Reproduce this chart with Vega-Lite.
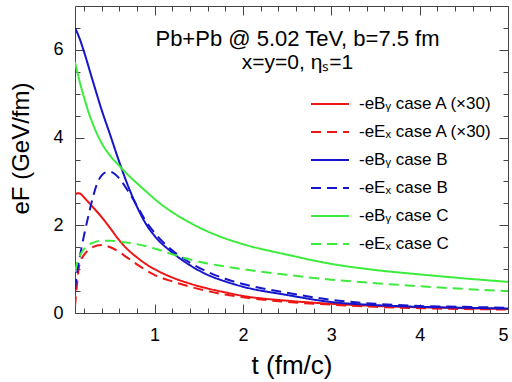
{
  "$schema": "https://vega.github.io/schema/vega-lite/v6.json",
  "width": 433,
  "height": 307,
  "autosize": {"type": "none"},
  "padding": {"left": 75, "top": 6, "right": 4, "bottom": 69},
  "config": {
    "view": {"stroke": "#444444", "strokeWidth": 1},
    "font": "Liberation Sans",
    "axis": {"grid": false}
  },
  "title": {
    "text": "Pb+Pb @ 5.02 TeV, b=7.5 fm",
    "subtitle": "x=y=0, ηₛ=1",
    "anchor": "middle",
    "frame": "group",
    "orient": "top",
    "offset": -68,
    "dx": 6,
    "font": "Liberation Sans",
    "fontSize": 22,
    "fontWeight": "normal",
    "color": "black",
    "subtitleFont": "Liberation Sans",
    "subtitleFontSize": 21,
    "subtitleColor": "black",
    "subtitlePadding": 1
  },
  "datasets": {
    "curves": [
      {"series": "-eBᵧ case A (×30)", "t": 0.1, "eF": 2.7},
      {"series": "-eBᵧ case A (×30)", "t": 0.13, "eF": 2.73},
      {"series": "-eBᵧ case A (×30)", "t": 0.16, "eF": 2.72},
      {"series": "-eBᵧ case A (×30)", "t": 0.2, "eF": 2.64},
      {"series": "-eBᵧ case A (×30)", "t": 0.3, "eF": 2.42},
      {"series": "-eBᵧ case A (×30)", "t": 0.4, "eF": 2.19},
      {"series": "-eBᵧ case A (×30)", "t": 0.5, "eF": 1.93},
      {"series": "-eBᵧ case A (×30)", "t": 0.6, "eF": 1.66},
      {"series": "-eBᵧ case A (×30)", "t": 0.7, "eF": 1.44},
      {"series": "-eBᵧ case A (×30)", "t": 0.8, "eF": 1.27},
      {"series": "-eBᵧ case A (×30)", "t": 0.9, "eF": 1.12},
      {"series": "-eBᵧ case A (×30)", "t": 1.0, "eF": 1.0},
      {"series": "-eBᵧ case A (×30)", "t": 1.2, "eF": 0.81},
      {"series": "-eBᵧ case A (×30)", "t": 1.4, "eF": 0.67},
      {"series": "-eBᵧ case A (×30)", "t": 1.6, "eF": 0.56},
      {"series": "-eBᵧ case A (×30)", "t": 1.8, "eF": 0.47},
      {"series": "-eBᵧ case A (×30)", "t": 2.0, "eF": 0.39},
      {"series": "-eBᵧ case A (×30)", "t": 2.5, "eF": 0.28},
      {"series": "-eBᵧ case A (×30)", "t": 3.0, "eF": 0.21},
      {"series": "-eBᵧ case A (×30)", "t": 3.5, "eF": 0.16},
      {"series": "-eBᵧ case A (×30)", "t": 4.0, "eF": 0.13},
      {"series": "-eBᵧ case A (×30)", "t": 4.5, "eF": 0.11},
      {"series": "-eBᵧ case A (×30)", "t": 5.0, "eF": 0.09},

      {"series": "-eEₓ case A (×30)", "t": 0.1, "eF": 0.15},
      {"series": "-eEₓ case A (×30)", "t": 0.12, "eF": 0.6},
      {"series": "-eEₓ case A (×30)", "t": 0.15, "eF": 1.1},
      {"series": "-eEₓ case A (×30)", "t": 0.2, "eF": 1.32},
      {"series": "-eEₓ case A (×30)", "t": 0.25, "eF": 1.43},
      {"series": "-eEₓ case A (×30)", "t": 0.3, "eF": 1.5},
      {"series": "-eEₓ case A (×30)", "t": 0.4, "eF": 1.55},
      {"series": "-eEₓ case A (×30)", "t": 0.5, "eF": 1.5},
      {"series": "-eEₓ case A (×30)", "t": 0.6, "eF": 1.39},
      {"series": "-eEₓ case A (×30)", "t": 0.7, "eF": 1.25},
      {"series": "-eEₓ case A (×30)", "t": 0.8, "eF": 1.11},
      {"series": "-eEₓ case A (×30)", "t": 0.9, "eF": 0.98},
      {"series": "-eEₓ case A (×30)", "t": 1.0, "eF": 0.87},
      {"series": "-eEₓ case A (×30)", "t": 1.2, "eF": 0.72},
      {"series": "-eEₓ case A (×30)", "t": 1.4, "eF": 0.6},
      {"series": "-eEₓ case A (×30)", "t": 1.6, "eF": 0.5},
      {"series": "-eEₓ case A (×30)", "t": 1.8, "eF": 0.42},
      {"series": "-eEₓ case A (×30)", "t": 2.0, "eF": 0.36},
      {"series": "-eEₓ case A (×30)", "t": 2.5, "eF": 0.25},
      {"series": "-eEₓ case A (×30)", "t": 3.0, "eF": 0.19},
      {"series": "-eEₓ case A (×30)", "t": 3.5, "eF": 0.14},
      {"series": "-eEₓ case A (×30)", "t": 4.0, "eF": 0.11},
      {"series": "-eEₓ case A (×30)", "t": 4.5, "eF": 0.09},
      {"series": "-eEₓ case A (×30)", "t": 5.0, "eF": 0.08},

      {"series": "-eBᵧ case B", "t": 0.1, "eF": 6.5},
      {"series": "-eBᵧ case B", "t": 0.15, "eF": 6.27},
      {"series": "-eBᵧ case B", "t": 0.2, "eF": 5.97},
      {"series": "-eBᵧ case B", "t": 0.3, "eF": 5.3},
      {"series": "-eBᵧ case B", "t": 0.4, "eF": 4.64},
      {"series": "-eBᵧ case B", "t": 0.5, "eF": 4.05},
      {"series": "-eBᵧ case B", "t": 0.6, "eF": 3.45},
      {"series": "-eBᵧ case B", "t": 0.7, "eF": 2.9},
      {"series": "-eBᵧ case B", "t": 0.8, "eF": 2.43},
      {"series": "-eBᵧ case B", "t": 0.9, "eF": 2.04},
      {"series": "-eBᵧ case B", "t": 1.0, "eF": 1.76},
      {"series": "-eBᵧ case B", "t": 1.2, "eF": 1.38},
      {"series": "-eBᵧ case B", "t": 1.4, "eF": 1.09},
      {"series": "-eBᵧ case B", "t": 1.6, "eF": 0.87},
      {"series": "-eBᵧ case B", "t": 1.8, "eF": 0.72},
      {"series": "-eBᵧ case B", "t": 2.0, "eF": 0.6},
      {"series": "-eBᵧ case B", "t": 2.5, "eF": 0.41},
      {"series": "-eBᵧ case B", "t": 3.0, "eF": 0.25},
      {"series": "-eBᵧ case B", "t": 3.5, "eF": 0.18},
      {"series": "-eBᵧ case B", "t": 4.0, "eF": 0.14},
      {"series": "-eBᵧ case B", "t": 4.5, "eF": 0.12},
      {"series": "-eBᵧ case B", "t": 5.0, "eF": 0.1},

      {"series": "-eEₓ case B", "t": 0.1, "eF": 0.55},
      {"series": "-eEₓ case B", "t": 0.13, "eF": 1.0},
      {"series": "-eEₓ case B", "t": 0.17, "eF": 1.45},
      {"series": "-eEₓ case B", "t": 0.2, "eF": 1.75},
      {"series": "-eEₓ case B", "t": 0.25, "eF": 2.2},
      {"series": "-eEₓ case B", "t": 0.3, "eF": 2.62},
      {"series": "-eEₓ case B", "t": 0.35, "eF": 2.95},
      {"series": "-eEₓ case B", "t": 0.4, "eF": 3.13},
      {"series": "-eEₓ case B", "t": 0.45, "eF": 3.21},
      {"series": "-eEₓ case B", "t": 0.5, "eF": 3.22},
      {"series": "-eEₓ case B", "t": 0.55, "eF": 3.17},
      {"series": "-eEₓ case B", "t": 0.6, "eF": 3.07},
      {"series": "-eEₓ case B", "t": 0.7, "eF": 2.78},
      {"series": "-eEₓ case B", "t": 0.8, "eF": 2.45},
      {"series": "-eEₓ case B", "t": 0.9, "eF": 2.1},
      {"series": "-eEₓ case B", "t": 1.0, "eF": 1.83},
      {"series": "-eEₓ case B", "t": 1.2, "eF": 1.43},
      {"series": "-eEₓ case B", "t": 1.4, "eF": 1.15},
      {"series": "-eEₓ case B", "t": 1.6, "eF": 0.94},
      {"series": "-eEₓ case B", "t": 1.8, "eF": 0.78},
      {"series": "-eEₓ case B", "t": 2.0, "eF": 0.66},
      {"series": "-eEₓ case B", "t": 2.2, "eF": 0.57},
      {"series": "-eEₓ case B", "t": 2.5, "eF": 0.46},
      {"series": "-eEₓ case B", "t": 3.0, "eF": 0.3},
      {"series": "-eEₓ case B", "t": 3.5, "eF": 0.21},
      {"series": "-eEₓ case B", "t": 4.0, "eF": 0.16},
      {"series": "-eEₓ case B", "t": 4.5, "eF": 0.14},
      {"series": "-eEₓ case B", "t": 5.0, "eF": 0.12},

      {"series": "-eBᵧ case C", "t": 0.1, "eF": 5.72},
      {"series": "-eBᵧ case C", "t": 0.15, "eF": 5.3},
      {"series": "-eBᵧ case C", "t": 0.2, "eF": 4.93},
      {"series": "-eBᵧ case C", "t": 0.25, "eF": 4.6},
      {"series": "-eBᵧ case C", "t": 0.3, "eF": 4.32},
      {"series": "-eBᵧ case C", "t": 0.35, "eF": 4.08},
      {"series": "-eBᵧ case C", "t": 0.4, "eF": 3.88},
      {"series": "-eBᵧ case C", "t": 0.5, "eF": 3.58},
      {"series": "-eBᵧ case C", "t": 0.6, "eF": 3.36},
      {"series": "-eBᵧ case C", "t": 0.7, "eF": 3.15},
      {"series": "-eBᵧ case C", "t": 0.8, "eF": 2.96},
      {"series": "-eBᵧ case C", "t": 0.9, "eF": 2.78},
      {"series": "-eBᵧ case C", "t": 1.0, "eF": 2.6},
      {"series": "-eBᵧ case C", "t": 1.2, "eF": 2.3},
      {"series": "-eBᵧ case C", "t": 1.4, "eF": 2.06},
      {"series": "-eBᵧ case C", "t": 1.6, "eF": 1.86},
      {"series": "-eBᵧ case C", "t": 1.8, "eF": 1.7},
      {"series": "-eBᵧ case C", "t": 2.0, "eF": 1.57},
      {"series": "-eBᵧ case C", "t": 2.5, "eF": 1.33},
      {"series": "-eBᵧ case C", "t": 3.0, "eF": 1.12},
      {"series": "-eBᵧ case C", "t": 3.5, "eF": 0.98},
      {"series": "-eBᵧ case C", "t": 4.0, "eF": 0.88},
      {"series": "-eBᵧ case C", "t": 4.5, "eF": 0.79},
      {"series": "-eBᵧ case C", "t": 5.0, "eF": 0.71},

      {"series": "-eEₓ case C", "t": 0.1, "eF": 0.94},
      {"series": "-eEₓ case C", "t": 0.13, "eF": 1.18},
      {"series": "-eEₓ case C", "t": 0.17, "eF": 1.36},
      {"series": "-eEₓ case C", "t": 0.2, "eF": 1.45},
      {"series": "-eEₓ case C", "t": 0.25, "eF": 1.55},
      {"series": "-eEₓ case C", "t": 0.3, "eF": 1.6},
      {"series": "-eEₓ case C", "t": 0.4, "eF": 1.65},
      {"series": "-eEₓ case C", "t": 0.5, "eF": 1.65},
      {"series": "-eEₓ case C", "t": 0.6, "eF": 1.63},
      {"series": "-eEₓ case C", "t": 0.8, "eF": 1.57},
      {"series": "-eEₓ case C", "t": 1.0, "eF": 1.47},
      {"series": "-eEₓ case C", "t": 1.2, "eF": 1.34},
      {"series": "-eEₓ case C", "t": 1.4, "eF": 1.22},
      {"series": "-eEₓ case C", "t": 1.6, "eF": 1.13},
      {"series": "-eEₓ case C", "t": 1.8, "eF": 1.06},
      {"series": "-eEₓ case C", "t": 2.0, "eF": 1.0},
      {"series": "-eEₓ case C", "t": 2.5, "eF": 0.87},
      {"series": "-eEₓ case C", "t": 3.0, "eF": 0.76},
      {"series": "-eEₓ case C", "t": 3.5, "eF": 0.68},
      {"series": "-eEₓ case C", "t": 4.0, "eF": 0.61},
      {"series": "-eEₓ case C", "t": 4.5, "eF": 0.55},
      {"series": "-eEₓ case C", "t": 5.0, "eF": 0.5}
    ]
  },
  "data": {"name": "curves"},
  "layer": [
    {
      "mark": {"type": "line", "strokeWidth": 2, "interpolate": "monotone", "clip": true},
      "encoding": {
        "x": {
          "field": "t", "type": "quantitative",
          "scale": {"domain": [0.1, 5], "nice": false, "zero": false},
          "axis": {
            "orient": "bottom", "values": [1, 2, 3, 4, 5], "ticks": false, "domain": false,
            "labelFontSize": 18, "labelColor": "black", "labelPadding": 13, "labelFont": "Liberation Sans",
            "title": "t (fm/c)", "titleFontSize": 26, "titleFontWeight": "normal", "titleColor": "black",
            "titleFont": "Liberation Sans", "titlePadding": 8
          }
        },
        "y": {
          "field": "eF", "type": "quantitative",
          "scale": {"domain": [0, 7], "nice": false, "zero": false},
          "axis": {
            "orient": "left", "values": [0, 2, 4, 6], "ticks": false, "domain": false,
            "labelFontSize": 18, "labelColor": "black", "labelPadding": 12, "labelFont": "Liberation Sans",
            "title": "eF (GeV/fm)", "titleFontSize": 24, "titleFontWeight": "normal", "titleColor": "black",
            "titleFont": "Liberation Sans", "titlePadding": 19, "titleY": 142
          }
        },
        "color": {
          "field": "series", "type": "nominal",
          "scale": {
            "domain": ["-eBᵧ case A (×30)", "-eEₓ case A (×30)", "-eBᵧ case B", "-eEₓ case B", "-eBᵧ case C", "-eEₓ case C"],
            "range": ["#ee1515", "#ee1515", "#1515cc", "#1515cc", "#3cec3c", "#3cec3c"]
          },
          "legend": {
            "orient": "none", "legendX": 235, "legendY": 78, "title": null,
            "symbolType": "stroke", "symbolSize": 1444, "symbolStrokeWidth": 2,
            "labelFontSize": 17, "labelFont": "Liberation Sans", "labelColor": "black",
            "labelOffset": 9, "rowPadding": -12
          }
        },
        "strokeDash": {
          "field": "series", "type": "nominal",
          "scale": {
            "domain": ["-eBᵧ case A (×30)", "-eEₓ case A (×30)", "-eBᵧ case B", "-eEₓ case B", "-eBᵧ case C", "-eEₓ case C"],
            "range": [[1, 0], [10, 6], [1, 0], [10, 6], [1, 0], [10, 6]]
          },
          "legend": {
            "orient": "none", "legendX": 235, "legendY": 78, "title": null,
            "symbolType": "stroke", "symbolSize": 1444, "symbolStrokeWidth": 2,
            "labelFontSize": 17, "labelFont": "Liberation Sans", "labelColor": "black",
            "labelOffset": 9, "rowPadding": -12
          }
        }
      }
    },
    {
      "mark": {"type": "point", "opacity": 0},
      "encoding": {
        "x": {"field": "t", "type": "quantitative", "scale": {"domain": [0.1, 5], "nice": false, "zero": false},
          "axis": {"orient": "bottom", "values": [1, 2, 3, 4, 5], "labels": false, "domain": false, "title": null, "tickSize": -9, "tickColor": "#444444"}},
        "y": {"field": "eF", "type": "quantitative", "scale": {"domain": [0, 7], "nice": false, "zero": false},
          "axis": {"orient": "left", "values": [0, 2, 4, 6], "labels": false, "domain": false, "title": null, "tickSize": -9, "tickColor": "#444444"}}
      }
    },
    {
      "mark": {"type": "point", "opacity": 0},
      "encoding": {
        "x": {"field": "t", "type": "quantitative", "scale": {"domain": [0.1, 5], "nice": false, "zero": false},
          "axis": {"orient": "bottom", "values": [0.2, 0.4, 0.6, 0.8, 1.2, 1.4, 1.6, 1.8, 2.2, 2.4, 2.6, 2.8, 3.2, 3.4, 3.6, 3.8, 4.2, 4.4, 4.6, 4.8], "labels": false, "domain": false, "title": null, "tickSize": -5, "tickColor": "#444444"}},
        "y": {"field": "eF", "type": "quantitative", "scale": {"domain": [0, 7], "nice": false, "zero": false},
          "axis": {"orient": "left", "values": [0.5, 1, 1.5, 2.5, 3, 3.5, 4.5, 5, 5.5, 6.5], "labels": false, "domain": false, "title": null, "tickSize": -5, "tickColor": "#444444"}}
      }
    },
    {
      "mark": {"type": "point", "opacity": 0},
      "encoding": {
        "x": {"field": "t", "type": "quantitative", "scale": {"domain": [0.1, 5], "nice": false, "zero": false},
          "axis": {"orient": "top", "values": [1, 2, 3, 4, 5], "labels": false, "domain": false, "title": null, "tickSize": -9, "tickColor": "#444444"}},
        "y": {"field": "eF", "type": "quantitative", "scale": {"domain": [0, 7], "nice": false, "zero": false},
          "axis": {"orient": "right", "values": [0, 2, 4, 6], "labels": false, "domain": false, "title": null, "tickSize": -9, "tickColor": "#444444"}}
      }
    },
    {
      "mark": {"type": "point", "opacity": 0},
      "encoding": {
        "x": {"field": "t", "type": "quantitative", "scale": {"domain": [0.1, 5], "nice": false, "zero": false},
          "axis": {"orient": "top", "values": [0.2, 0.4, 0.6, 0.8, 1.2, 1.4, 1.6, 1.8, 2.2, 2.4, 2.6, 2.8, 3.2, 3.4, 3.6, 3.8, 4.2, 4.4, 4.6, 4.8], "labels": false, "domain": false, "title": null, "tickSize": -5, "tickColor": "#444444"}},
        "y": {"field": "eF", "type": "quantitative", "scale": {"domain": [0, 7], "nice": false, "zero": false},
          "axis": {"orient": "right", "values": [0.5, 1, 1.5, 2.5, 3, 3.5, 4.5, 5, 5.5, 6.5], "labels": false, "domain": false, "title": null, "tickSize": -5, "tickColor": "#444444"}}
      }
    }
  ],
  "resolve": {"axis": {"x": "independent", "y": "independent"}}
}
